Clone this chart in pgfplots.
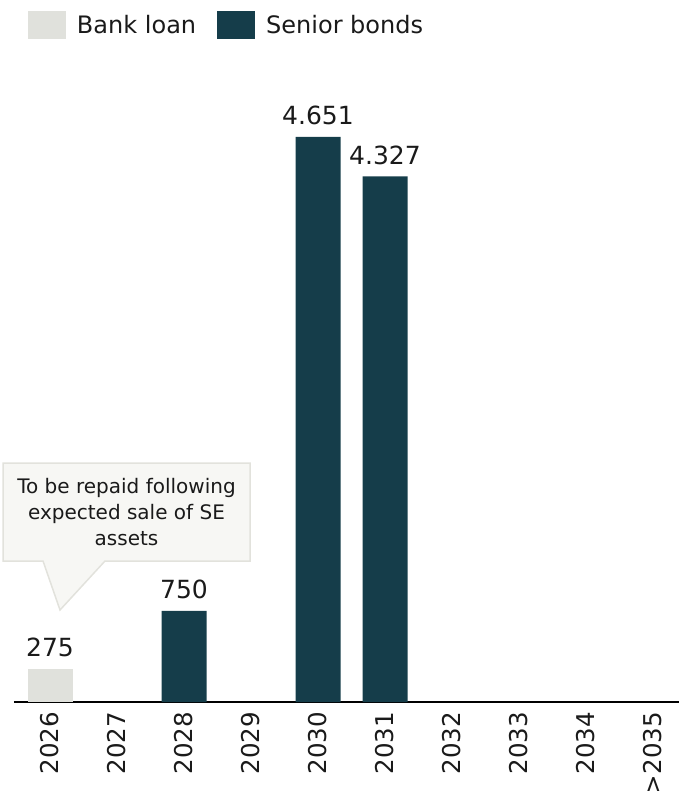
\documentclass[border=0pt]{standalone}
\usepackage{pgfplots}
\pgfplotsset{compat=1.18}
\usepackage{pgfplotstable}
\usepackage{fontspec}
\setmainfont{DejaVu Sans}
\definecolor{bankgrey}{HTML}{E0E1DC}
\definecolor{bondteal}{HTML}{153D4A}
\definecolor{calloutfill}{HTML}{F7F7F4}
\definecolor{calloutdraw}{HTML}{E2E2DC}
\definecolor{txt}{HTML}{1A1A1A}

\pgfplotstableread{
x y label
0 275 275
}\bankloan
\pgfplotstableread{
x y label
2 750 750
4 4651 4.651
5 4327 4.327
}\seniorbonds

\begin{document}
\begin{tikzpicture}
\begin{axis}[
  x=67bp, y=0.1215bp,
  xmin=-0.54, xmax=9.39, ymin=0, ymax=4900,
  axis y line=none,
  axis x line=bottom,
  x axis line style={-, line width=1.5bp, black},
  xtick={0,...,9},
  xticklabels={2026,2027,2028,2029,2030,2031,2032,2033,2034,>2035},
  major tick length=0pt,
  xticklabel style={rotate=90, anchor=east, inner sep=0pt, font=\fontsize{24.5bp}{28bp}\selectfont, text=txt},
  xticklabel shift=10bp,
  clip=false,
  ybar,
  bar width=45bp,
  nodes near coords={\pgfplotspointmeta},
  point meta=explicit symbolic,
  every node near coord/.append style={anchor=base, yshift=12bp, inner sep=0pt, font=\fontsize{25bp}{28bp}\selectfont, text=txt},
  legend columns=2,
  legend style={at={(axis description cs:0.0213,1.137)}, anchor=west, draw=none, fill=none, inner sep=0pt, outer sep=0pt, font=\fontsize{24bp}{28bp}\selectfont, text=txt, nodes={inner sep=0pt}, /tikz/every even column/.append style={column sep=21bp}},
]
\addplot[fill=bankgrey, draw=none, bar shift=0pt,
  legend image code/.code={\fill[bankgrey] (0bp,-14bp) rectangle (38bp,14bp); \path (49bp,0bp);}]
  table[x=x, y=y, meta=label] {\bankloan};
\addlegendentry{Bank loan}
\addplot[fill=bondteal, draw=none, bar shift=0pt,
  legend image code/.code={\fill[bondteal] (0bp,-14bp) rectangle (38bp,14bp); \path (49bp,0bp);}]
  table[x=x, y=y, meta=label] {\seniorbonds};
\addlegendentry{Senior bonds}

\filldraw[fill=calloutfill, draw=calloutdraw, line width=1.5bp, line join=miter]
  (axis cs:0.1493,757.2) -- ++(-17bp,49bp) -- ++(-40bp,0bp) -- ++(0bp,98bp) -- ++(247bp,0bp) -- ++(0bp,-98bp) -- ++(-145bp,0bp) -- cycle;
\node[align=center, font=\fontsize{20bp}{26bp}\selectfont, text=txt, inner sep=0pt]
  at ([shift={(66.5bp,98bp)}]axis cs:0.1493,757.2) {To be repaid following\\expected sale of SE\\assets};

\coordinate (bbtl) at (axis cs:-0.7463,5778);
\coordinate (bbbr) at (axis cs:9.388,-732.5);
\end{axis}
\pgfresetboundingbox
\useasboundingbox (bbtl) rectangle (bbbr);
\end{tikzpicture}
\end{document}
